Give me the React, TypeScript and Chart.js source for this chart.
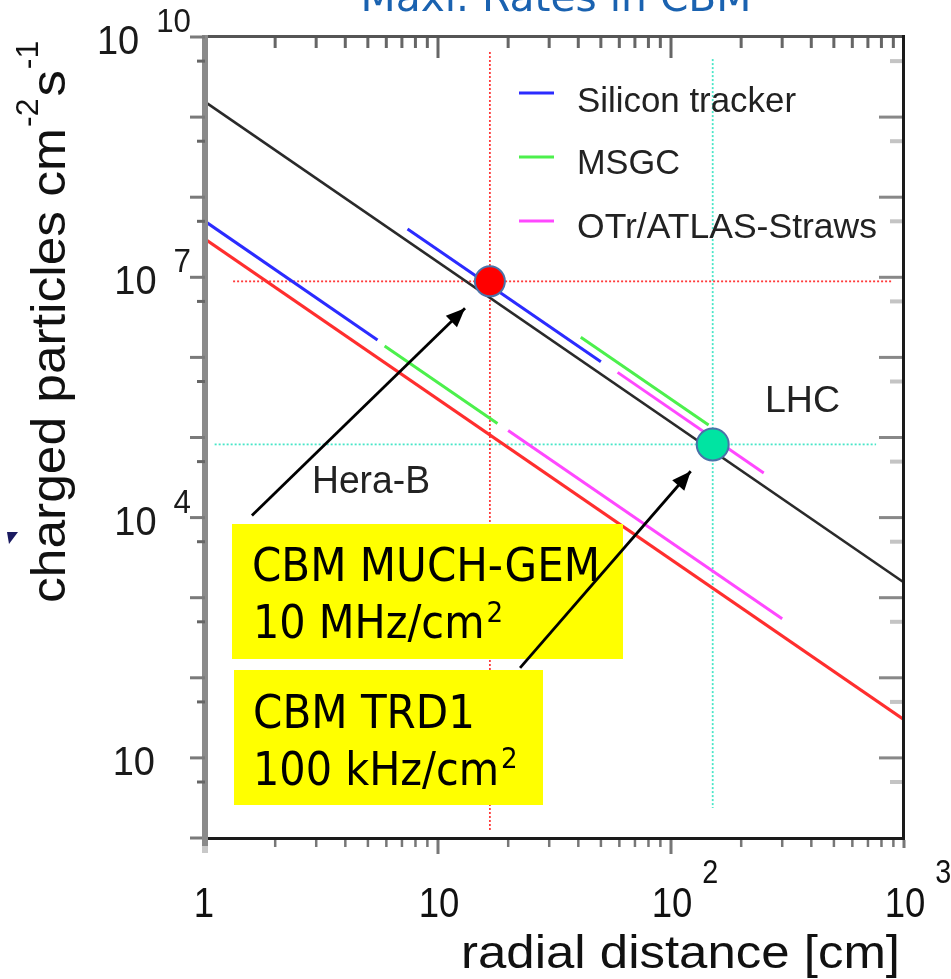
import React, { useEffect, useRef } from 'react';
import { Chart, registerables } from 'chart.js';

Chart.register(...registerables);

// ---------- data ----------
const radialRange = [1, 1000];
const rateRange = [1, 1e10];

// LHC (black)
const lhcR = [1, 1000];
const lhcRate = [1.55e9, 1.55e3];
// Hera-B (red)
const heraR = [1, 1000];
const heraRate = [3.0e7, 30];
// Silicon tracker (blue)
const siliconHeraR = [1, 5.5];
const siliconHeraRate = [5.0e7, 1.65e6];
const siliconLhcR = [7.4, 50];
const siliconLhcRate = [4.0e7, 8.8e5];
// MSGC (green)
const msgcHeraR = [5.9, 18];
const msgcHeraRate = [1.39e6, 1.5e5];
const msgcLhcR = [41, 145];
const msgcLhcRate = [1.78e6, 1.43e5];
// OTr/ATLAS-Straws (magenta)
const strawHeraR = [20, 300];
const strawHeraRate = [1.22e5, 545];
const strawLhcR = [59, 250];
const strawLhcRate = [6.5e5, 3.6e4];

// CBM operating points: MUCH-GEM, TRD1
const markerR = [16.7, 151];
const markerRate = [8.9e6, 8.2e4];
// extents of the dotted guide lines through them
const guideVertRate = [[6.5e9, 1.26], [5.3e9, 2.37]];
const guideHorzR = [[1.32, 897], [1.1, 759]];

// arrows from the text boxes to the points
const arrowFromR = [1.59, 22.5];
const arrowFromRate = [1.06e4, 133];
const arrowToR = [13.06, 121.5];
const arrowToRate = [4.1e6, 3.79e4];

const legendNames = ['Silicon tracker', 'MSGC', 'OTr/ATLAS-Straws'];
const boxTexts = [['CBM MUCH-GEM', '10 MHz/cm', '2'], ['CBM TRD1', '100 kHz/cm', '2']];
const regionLabels = ['Hera-B', 'LHC'];

const xMajorTicks = [1, 10, 100, 1000];
const xMinorTicks = [2, 3, 4, 5, 6, 7, 8, 9, 20, 30, 40, 50, 60, 70, 80, 90, 200, 300, 400, 500, 600, 700, 800, 900];
const yMajorTicks = [1, 10, 1e2, 1e3, 1e4, 1e5, 1e6, 1e7, 1e8, 1e9, 1e10];
const yMinorTicks = [5, 50, 5e2, 5e3, 5e4, 5e5, 5e6, 5e7, 5e8, 5e9];
const xLabelValues = [1, 10, 100, 1000];
const xLabelBases = ['1', '10', '10', '10'];
const xLabelExps = ['', '', '2', '3'];
const yLabelValues = [10, 1e4, 1e7, 1e10];
const yLabelExps = ['', '4', '7', '10'];

// ---------- styles ----------
const SANS = '"Liberation Sans", Arial, Helvetica, sans-serif';
const BOXF = '"DejaVu Sans", Verdana, sans-serif';
const BLUE = '#2b2bff';
const GREEN = '#4cf04c';
const MAGENTA = '#ff48ff';
const RED = '#ff2e2e';

const pts = (xs: number[], ys: number[]) => xs.map((x, i) => ({ x, y: ys[i] }));

function drawText(ctx: CanvasRenderingContext2D, text: string, x: number, y: number, size: number, family: string, color: string, sx = 1, align = 'left', target = 0) {
  ctx.save();
  ctx.font = `${size}px ${family}`;
  const w = ctx.measureText(text).width;
  const s = target ? target / w : sx;
  const ww = w * s;
  let x0 = x;
  if (align === 'right') x0 = x - ww;
  else if (align === 'center') x0 = x - ww / 2;
  ctx.translate(x0, y);
  ctx.scale(s, 1);
  ctx.fillStyle = color;
  ctx.textAlign = 'left';
  ctx.textBaseline = 'alphabetic';
  ctx.fillText(text, 0, 0);
  ctx.restore();
  return ww;
}

let boxesDrawn = false;

function drawBoxes(ctx: CanvasRenderingContext2D) {
  ctx.save();
  ctx.fillStyle = '#ffff00';
  ctx.fillRect(232, 524, 391, 135);
  ctx.fillRect(234, 670, 309, 135);
  drawText(ctx, boxTexts[0][0], 252, 581, 46, BOXF, '#000', 1, 'left', 348);
  let w = drawText(ctx, boxTexts[0][1], 253, 638, 46, BOXF, '#000', 0.9);
  drawText(ctx, boxTexts[0][2], 253 + w + 2, 622, 29, BOXF, '#000', 0.9);
  drawText(ctx, boxTexts[1][0], 253, 728, 46, BOXF, '#000', 1, 'left', 222);
  w = drawText(ctx, boxTexts[1][1], 253, 785, 46, BOXF, '#000', 0.9);
  drawText(ctx, boxTexts[1][2], 253 + w + 2, 768, 29, BOXF, '#000', 0.9);
  ctx.restore();
}

const overlayPlugin = {
  id: 'overlay',
  beforeDatasetsDraw() {
    boxesDrawn = false;
  },
  beforeDatasetDraw(chart: any, args: any) {
    const ds = chart.data.datasets[args.index];
    if (ds.isArrow && !boxesDrawn) {
      drawBoxes(chart.ctx);
      boxesDrawn = true;
    }
  },
  afterDatasetDraw(chart: any, args: any) {
    const ds = chart.data.datasets[args.index];
    if (!ds.isArrow) return;
    const meta = chart.getDatasetMeta(args.index);
    const a = meta.data[0];
    const b = meta.data[1];
    const ang = Math.atan2(b.y - a.y, b.x - a.x);
    const ctx = chart.ctx;
    ctx.save();
    ctx.translate(b.x, b.y);
    ctx.rotate(ang);
    ctx.fillStyle = '#000';
    ctx.beginPath();
    ctx.moveTo(0, 0);
    ctx.lineTo(-19, -8);
    ctx.lineTo(-19, 8);
    ctx.closePath();
    ctx.fill();
    ctx.restore();
  },
  afterDraw(chart: any) {
    const ctx: CanvasRenderingContext2D = chart.ctx;
    const xs = chart.scales.x;
    const ys = chart.scales.y;
    const { left, right, top, bottom } = chart.chartArea;
    ctx.save();
    // frame
    ctx.fillStyle = '#555';
    ctx.fillRect(left, top - 2, right - left + 1, 3);
    ctx.fillStyle = '#1a1a1a';
    ctx.fillRect(right - 2, top - 2, 3, bottom - top + 4);
    ctx.fillRect(left, bottom - 1, right - left + 1, 3);
    ctx.fillStyle = '#8a8a8a';
    ctx.fillRect(left - 3, top - 2, 6, bottom - top + 10);
    ctx.fillStyle = '#c8c8c8';
    ctx.fillRect(left - 3, bottom + 8, 6, 7);

    // ticks
    for (const v of yMajorTicks) {
      const p = ys.getPixelForValue(v);
      ctx.fillStyle = '#7a7a7a';
      if (v > 1) ctx.fillRect(left - 15, p - 1.5, 15, 3);
      else ctx.fillRect(left - 15, p - 1.5, 12, 3);
      if (v > 1 && v < 1e10) {
        ctx.fillStyle = '#888';
        ctx.fillRect(right - 25, p - 1.5, 23, 3);
      }
    }
    for (const v of yMinorTicks) {
      const p = ys.getPixelForValue(v);
      ctx.fillStyle = '#666';
      ctx.fillRect(left - 8, p - 1.5, 8, 3);
      ctx.fillStyle = '#c4c4c4';
      ctx.fillRect(right - 14, p - 2, 12, 4);
    }
    for (const v of xMajorTicks) {
      const p = xs.getPixelForValue(v);
      if (v > 1 && v < 1000) {
        ctx.fillStyle = '#666';
        ctx.fillRect(p - 1.5, top + 1, 3, 20);
        ctx.fillStyle = '#777';
        ctx.fillRect(p - 1.5, bottom + 2, 3, 14);
      }
      if (v === 1000) {
        ctx.fillStyle = '#777';
        ctx.fillRect(p - 1.5, bottom + 2, 3, 8);
      }
    }
    for (const v of xMinorTicks) {
      const p = xs.getPixelForValue(v);
      ctx.fillStyle = '#666';
      ctx.fillRect(p - 1.5, top + 1, 3, 10);
      ctx.fillStyle = '#777';
      ctx.fillRect(p - 1.2, bottom + 2, 2.5, 7);
    }

    // y tick labels
    yLabelValues.forEach((v, i) => {
      const p = ys.getPixelForValue(v);
      const e = yLabelExps[i];
      if (e) {
        const ew = drawText(ctx, e, 191, p - 5, 34, SANS, '#1a1a1a', 0.92, 'right');
        drawText(ctx, '10', 191 - ew - 17, p + 17, 40, SANS, '#1a1a1a', 0.95, 'right');
      } else {
        drawText(ctx, '10', 155, p + 17, 40, SANS, '#1a1a1a', 0.95, 'right');
      }
    });
    // x tick labels
    xLabelValues.forEach((v, i) => {
      const p = xs.getPixelForValue(v);
      const bw = drawText(ctx, xLabelBases[i], p - (v === 1 ? 1 : -1), 917, 42, SANS, '#111', 0.87, 'center');
      const e = xLabelExps[i];
      if (e) drawText(ctx, e, p + 1 + bw / 2 + 10, 883, 33, SANS, '#111', 0.87, 'left');
    });

    // axis titles
    drawText(ctx, 'radial distance [cm]', 900, 968, 46, SANS, '#111', 1, 'right', 439);
    ctx.save();
    ctx.translate(65, 603);
    ctx.rotate(-Math.PI / 2);
    let cx = drawText(ctx, 'charged particles cm', 0, 0, 48, SANS, '#111', 1, 'left', 475);
    cx += drawText(ctx, '-2', cx + 1, -27, 32, SANS, '#111', 1.0, 'left');
    cx += 3;
    cx += drawText(ctx, 's', cx, 0, 48, SANS, '#111', 1.1, 'left');
    drawText(ctx, '-1', cx + 1, -27, 32, SANS, '#111', 1.0, 'left');
    ctx.restore();

    // small mark at left
    ctx.fillStyle = '#1a1a60';
    ctx.beginPath();
    ctx.moveTo(7, 532);
    ctx.lineTo(18, 532);
    ctx.lineTo(9, 544);
    ctx.closePath();
    ctx.fill();

    // title (cut by the top edge)
    drawText(ctx, 'Maxi. Rates in CBM', 556, 11, 41, BOXF, '#1a62b0', 1, 'center', 391);

    // legend
    const lc = [BLUE, GREEN, MAGENTA];
    const ly = [93, 157, 221];
    const lb = [111.5, 174, 238.3];
    const lw = [219, 103, 300];
    legendNames.forEach((n, i) => {
      ctx.fillStyle = lc[i];
      ctx.fillRect(519, ly[i] - 1.5, 35, 3);
      drawText(ctx, n, 577, lb[i], 35, SANS, '#222', 1, 'left', lw[i]);
    });

    // region labels
    drawText(ctx, regionLabels[0], 312, 493, 38, SANS, '#222', 1, 'left', 118);
    drawText(ctx, regionLabels[1], 765, 412, 37, SANS, '#222', 1, 'left', 75);
    ctx.restore();
  },
};

function lineDs(label: string, xs: number[], ys: number[], color: string, width: number) {
  return {
    label,
    data: pts(xs, ys),
    showLine: true,
    borderColor: color,
    backgroundColor: color,
    borderWidth: width,
    pointRadius: 0,
    order: 5,
  };
}

export default function App() {
  const ref = useRef<HTMLCanvasElement>(null);
  useEffect(() => {
    const guideColors = ['#ff3a3a', '#48e6c8'];
    const guides: any[] = [];
    markerR.forEach((r, i) => {
      guides.push({
        label: 'guide-v' + i,
        data: [{ x: r, y: guideVertRate[i][0] }, { x: r, y: guideVertRate[i][1] }],
        showLine: true, borderColor: guideColors[i], borderWidth: 1.8, borderDash: [2, 2], pointRadius: 0, order: 6,
      });
      guides.push({
        label: 'guide-h' + i,
        data: [{ x: guideHorzR[i][0], y: markerRate[i] }, { x: guideHorzR[i][1], y: markerRate[i] }],
        showLine: true, borderColor: guideColors[i], borderWidth: 1.8, borderDash: [2, 2], pointRadius: 0, order: 6,
      });
    });
    const arrows = arrowFromR.map((r, i) => ({
      label: 'arrow' + i,
      isArrow: true,
      data: [{ x: r, y: arrowFromRate[i] }, { x: arrowToR[i], y: arrowToRate[i] }],
      showLine: true, borderColor: '#000', borderWidth: 2.8, pointRadius: 0, order: 1,
    }));
    const markerFill = ['#ff0000', '#00e4a2'];
    const markers = markerR.map((r, i) => ({
      label: 'marker' + i,
      data: [{ x: r, y: markerRate[i] }],
      showLine: false,
      pointRadius: i === 0 ? 15 : 16,
      pointBackgroundColor: markerFill[i],
      pointBorderColor: '#4a72a8',
      pointBorderWidth: 2,
      order: 0,
    }));
    const datasets: any[] = [
      ...markers,
      ...arrows,
      lineDs('LHC', lhcR, lhcRate, '#2a2a2a', 2.6),
      lineDs('Hera-B', heraR, heraRate, RED, 3),
      lineDs('Silicon tracker (Hera-B)', siliconHeraR, siliconHeraRate, BLUE, 3),
      lineDs('Silicon tracker (LHC)', siliconLhcR, siliconLhcRate, BLUE, 3),
      lineDs('MSGC (Hera-B)', msgcHeraR, msgcHeraRate, GREEN, 3),
      lineDs('MSGC (LHC)', msgcLhcR, msgcLhcRate, GREEN, 3),
      lineDs('OTr (Hera-B)', strawHeraR, strawHeraRate, MAGENTA, 3),
      lineDs('OTr (LHC)', strawLhcR, strawLhcRate, MAGENTA, 3),
      ...guides,
    ];
    const chart = new Chart(ref.current as HTMLCanvasElement, {
      type: 'scatter',
      data: { datasets },
      options: {
        animation: false,
        responsive: false,
        devicePixelRatio: 1,
        layout: { padding: { left: 205, right: 47, top: 37, bottom: 141 } },
        plugins: { legend: { display: false }, tooltip: { enabled: false }, title: { display: false } },
        scales: {
          x: { type: 'logarithmic', min: radialRange[0], max: radialRange[1], display: false },
          y: { type: 'logarithmic', min: rateRange[0], max: rateRange[1], display: false },
        },
      } as any,
      plugins: [overlayPlugin as any],
    });
    return () => chart.destroy();
  }, []);
  return (
    <div style={{ position: 'absolute', left: 0, top: 0, width: 951, height: 979, background: '#fff' }}>
      <canvas ref={ref} width={951} height={979} style={{ display: 'block', width: 951, height: 979 }} />
    </div>
  );
}
